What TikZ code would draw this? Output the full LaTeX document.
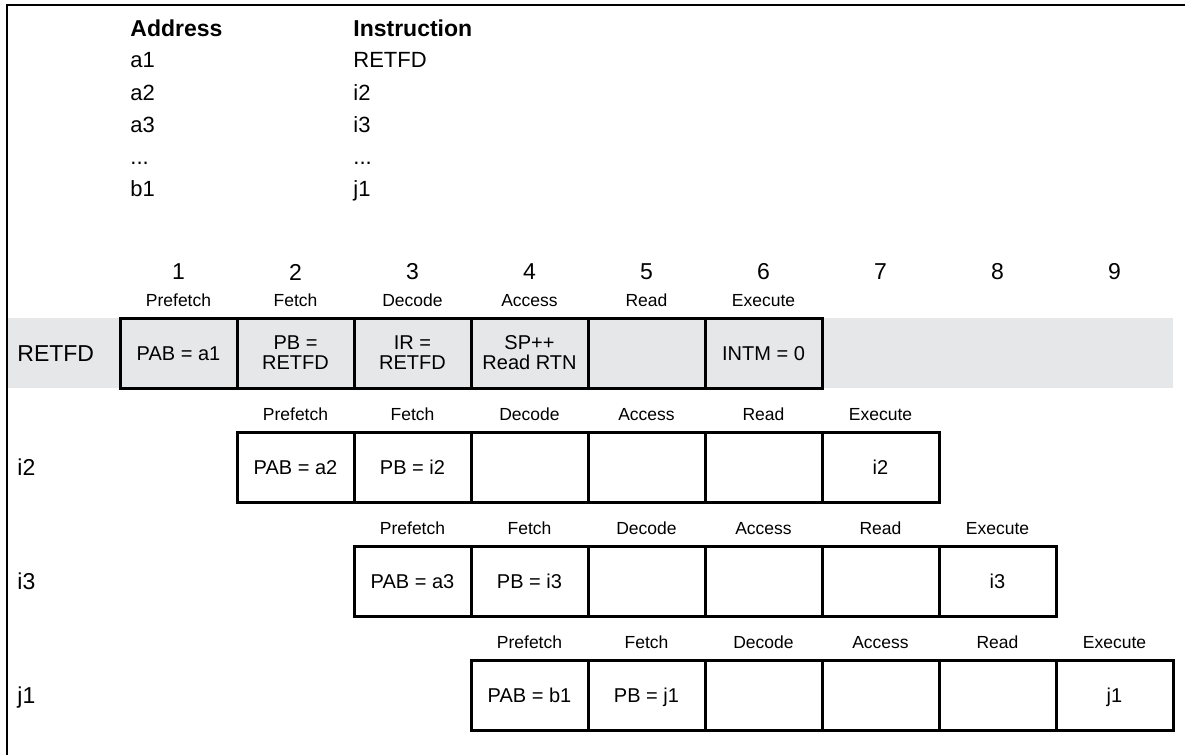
\documentclass[tikz,border=0pt]{standalone}
\usepackage{fontspec}
\setmainfont{Liberation Sans}
\definecolor{bandgray}{HTML}{E6E7E8}
\newcommand{\cellfont}{\fontsize{10}{10}\selectfont}
\newcommand{\stagefont}{\fontsize{8.75}{9}\selectfont}
\newcommand{\listfont}{\fontsize{11}{12}\selectfont}
\newcommand{\headfont}{\fontsize{11.5}{12}\selectfont\bfseries}
\newcommand{\rowfont}{\fontsize{11.5}{12}\selectfont}
\tikzset{
  stagebox/.style={draw, line width=1.5pt, minimum width=58.5pt, minimum height=35pt, inner sep=0pt, align=center, font=\cellfont},
  cell/.style={stagebox, text height=7.2pt, text depth=0pt},
  twoline/.style={stagebox},
  stage/.style={font=\stagefont, inner sep=0pt, text height=6.3pt, text depth=0pt},
  entry/.style={font=\listfont, inner sep=0pt, anchor=base west},
  cyclenum/.style={font=\rowfont, inner sep=0pt},
  rowname/.style={font=\rowfont, inner sep=0pt, anchor=west, text height=8.2pt, text depth=0pt}
}
\begin{document}
\begin{tikzpicture}[x=0.5pt,y=-0.5pt]
\useasboundingbox (0,0) rectangle (1185,755);
% frame and highlighted row
\draw[line width=0.8pt] (1185,5) -- (7,5) -- (7,755);
\fill[bandgray] (8,318) rectangle (1173,388);
% program listing
\node[entry, font=\headfont] (addr) at (130,36) {Address};
\node[entry, font=\headfont] (instr) at (353,36) {Instruction};
\node[entry] (ad1) at (130,68) {a1};
\node[entry] (ad2) at (130,100) {a2};
\node[entry] (ad3) at (130,132) {a3};
\node[entry] (addots) at (130,164) {...};
\node[entry] (ad4) at (130,196) {b1};
\node[entry] (in1) at (353,68) {RETFD};
\node[entry] (in2) at (353,100) {i2};
\node[entry] (in3) at (353,132) {i3};
\node[entry] (indots) at (353,164) {...};
\node[entry] (in4) at (353,196) {j1};
% cycle numbers
\node[cyclenum] (n1) at (178.5,272) {1};
\node[cyclenum] (n2) at (295.5,272) {2};
\node[cyclenum] (n3) at (412.5,272) {3};
\node[cyclenum] (n4) at (529.5,272) {4};
\node[cyclenum] (n5) at (646.5,272) {5};
\node[cyclenum] (n6) at (763.5,272) {6};
\node[cyclenum] (n7) at (880.5,272) {7};
\node[cyclenum] (n8) at (997.5,272) {8};
\node[cyclenum] (n9) at (1114.5,272) {9};
% RETFD
\node[rowname] (rr) at (17,353) {RETFD};
\node[stage] (rs1) at (178.5,300) {Prefetch};
\node[stage] (rs2) at (295.5,300) {Fetch};
\node[stage] (rs3) at (412.5,300) {Decode};
\node[stage] (rs4) at (529.5,300) {Access};
\node[stage] (rs5) at (646.5,300) {Read};
\node[stage] (rs6) at (763.5,300) {Execute};
\node[cell, fill=bandgray] (rc1) at (178.5,353) {PAB = a1};
\node[twoline, fill=bandgray] (rc2) at (295.5,353) {PB =\\RETFD};
\node[twoline, fill=bandgray] (rc3) at (412.5,353) {IR =\\RETFD};
\node[twoline, fill=bandgray] (rc4) at (529.5,353) {SP++\\Read RTN};
\node[cell, fill=bandgray] (rc5) at (646.5,353) {};
\node[cell, fill=bandgray] (rc6) at (763.5,353) {INTM = 0};
% i2
\node[rowname] (ir) at (17,467) {i2};
\node[stage] (is1) at (295.5,414) {Prefetch};
\node[stage] (is2) at (412.5,414) {Fetch};
\node[stage] (is3) at (529.5,414) {Decode};
\node[stage] (is4) at (646.5,414) {Access};
\node[stage] (is5) at (763.5,414) {Read};
\node[stage] (is6) at (880.5,414) {Execute};
\node[cell] (ic1) at (295.5,467) {PAB = a2};
\node[cell] (ic2) at (412.5,467) {PB = i2};
\node[cell] (ic3) at (529.5,467) {};
\node[cell] (ic4) at (646.5,467) {};
\node[cell] (ic5) at (763.5,467) {};
\node[cell] (ic6) at (880.5,467) {i2};
% i3
\node[rowname] (kr) at (17,581) {i3};
\node[stage] (ks1) at (412.5,528) {Prefetch};
\node[stage] (ks2) at (529.5,528) {Fetch};
\node[stage] (ks3) at (646.5,528) {Decode};
\node[stage] (ks4) at (763.5,528) {Access};
\node[stage] (ks5) at (880.5,528) {Read};
\node[stage] (ks6) at (997.5,528) {Execute};
\node[cell] (kc1) at (412.5,581) {PAB = a3};
\node[cell] (kc2) at (529.5,581) {PB = i3};
\node[cell] (kc3) at (646.5,581) {};
\node[cell] (kc4) at (763.5,581) {};
\node[cell] (kc5) at (880.5,581) {};
\node[cell] (kc6) at (997.5,581) {i3};
% j1
\node[rowname] (jr) at (17,695) {j1};
\node[stage] (js1) at (529.5,642) {Prefetch};
\node[stage] (js2) at (646.5,642) {Fetch};
\node[stage] (js3) at (763.5,642) {Decode};
\node[stage] (js4) at (880.5,642) {Access};
\node[stage] (js5) at (997.5,642) {Read};
\node[stage] (js6) at (1114.5,642) {Execute};
\node[cell] (jc1) at (529.5,695) {PAB = b1};
\node[cell] (jc2) at (646.5,695) {PB = j1};
\node[cell] (jc3) at (763.5,695) {};
\node[cell] (jc4) at (880.5,695) {};
\node[cell] (jc5) at (997.5,695) {};
\node[cell] (jc6) at (1114.5,695) {j1};
\end{tikzpicture}
\end{document}
